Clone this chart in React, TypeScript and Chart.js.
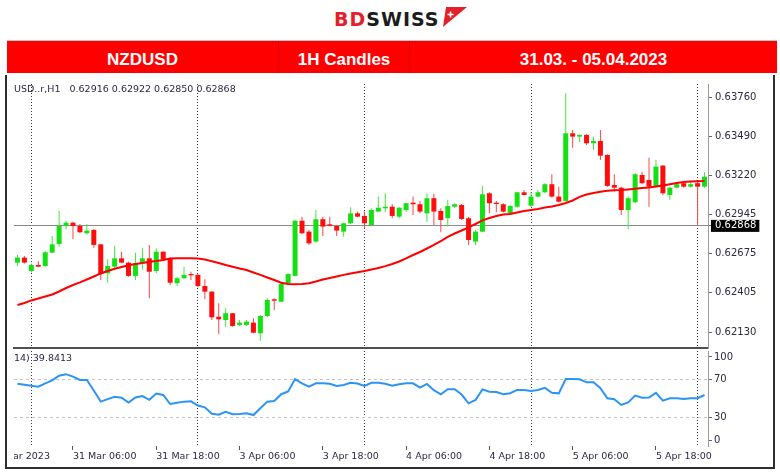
import React, { useEffect, useRef } from 'react';
import { Chart, registerables } from 'chart.js';

Chart.register(...registerables);

// ---- categories (hourly candles, server time) ----
const sessionDays = ['30 Mar', '31 Mar', '3 Apr', '4 Apr', '5 Apr', '6 Apr'];
const sessionFirstHour = [22, 0, 0, 0, 0, 0];
const sessionLastHour = [23, 23, 23, 23, 23, 1];
const categories: string[] = [];
sessionDays.forEach((d, k) => {
  for (let h = sessionFirstHour[k]; h <= sessionLastHour[k]; h++) {
    categories.push(`${d} ${String(h).padStart(2, '0')}:00`);
  }
});
const labeledHours = ['06:00', '18:00'];
const separatorHour = '00:00';
const leadLabel = '30 Mar 2023';
const leadLabelIndex = -4;

// ---- OHLC ----
const opens = [
  0.62613, 0.62648, 0.62555, 0.62597, 0.62590, 0.62682, 0.62742, 0.62867, 0.62890, 0.62867,
  0.62817, 0.62840, 0.62740, 0.62539, 0.62585, 0.62643, 0.62613, 0.62521, 0.62609, 0.62643,
  0.62555, 0.62689, 0.62643, 0.62470, 0.62505, 0.62534, 0.62528, 0.62451, 0.62412, 0.62238,
  0.62215, 0.62262, 0.62181, 0.62181, 0.62197, 0.62123, 0.62243, 0.62359, 0.62342, 0.62470,
  0.62521, 0.62904, 0.62828, 0.62759, 0.62914, 0.62879, 0.62867, 0.62828, 0.62886, 0.62955,
  0.62937, 0.62874, 0.62967, 0.62990, 0.63001, 0.62932, 0.62978, 0.63029, 0.63018, 0.62955,
  0.63060, 0.62971, 0.62921, 0.63001, 0.63013, 0.62921, 0.62759, 0.62828, 0.63094, 0.63029,
  0.63018, 0.62955, 0.63001, 0.63101, 0.63008, 0.63071, 0.63101, 0.63157, 0.63071, 0.63041,
  0.63510, 0.63487, 0.63499, 0.63441, 0.63457, 0.63360, 0.63152, 0.63133, 0.62978, 0.63032,
  0.63221, 0.63186, 0.63140, 0.63286, 0.63082, 0.63133, 0.63164, 0.63140, 0.63164, 0.63140,
];
const highs = [
  0.62666, 0.62659, 0.62607, 0.62625, 0.62696, 0.62798, 0.62971, 0.62904, 0.62897, 0.62881,
  0.62881, 0.62847, 0.62742, 0.62636, 0.62731, 0.62689, 0.62620, 0.62682, 0.62717, 0.62736,
  0.62713, 0.62692, 0.62650, 0.62516, 0.62585, 0.62550, 0.62534, 0.62498, 0.62414, 0.62331,
  0.62297, 0.62264, 0.62215, 0.62215, 0.62227, 0.62250, 0.62366, 0.62366, 0.62470, 0.62539,
  0.62909, 0.62932, 0.62840, 0.62978, 0.62932, 0.62932, 0.62874, 0.62890, 0.62997, 0.62967,
  0.62967, 0.62990, 0.63071, 0.63094, 0.63018, 0.62999, 0.63029, 0.63071, 0.63041, 0.63094,
  0.63090, 0.62990, 0.63048, 0.63025, 0.63020, 0.62932, 0.62840, 0.63145, 0.63101, 0.63041,
  0.63025, 0.63013, 0.63105, 0.63117, 0.63101, 0.63117, 0.63164, 0.63226, 0.63140, 0.63788,
  0.63533, 0.63500, 0.63503, 0.63487, 0.63533, 0.63365, 0.63226, 0.63140, 0.63071, 0.63233,
  0.63244, 0.63341, 0.63325, 0.63290, 0.63140, 0.63164, 0.63175, 0.63180, 0.63175, 0.63240,
];
const lows = [
  0.62590, 0.62607, 0.62545, 0.62583, 0.62585, 0.62678, 0.62724, 0.62844, 0.62775, 0.62817,
  0.62807, 0.62717, 0.62493, 0.62474, 0.62574, 0.62609, 0.62516, 0.62493, 0.62562, 0.62366,
  0.62539, 0.62632, 0.62458, 0.62451, 0.62498, 0.62493, 0.62442, 0.62359, 0.62215, 0.62118,
  0.62165, 0.62169, 0.62174, 0.62174, 0.62123, 0.62072, 0.62234, 0.62285, 0.62340, 0.62463,
  0.62519, 0.62812, 0.62736, 0.62752, 0.62798, 0.62863, 0.62798, 0.62793, 0.62881, 0.62928,
  0.62851, 0.62867, 0.62962, 0.62962, 0.62921, 0.62921, 0.62964, 0.62944, 0.62955, 0.62897,
  0.62874, 0.62824, 0.62863, 0.62990, 0.62909, 0.62736, 0.62736, 0.62826, 0.62955, 0.62962,
  0.62962, 0.62949, 0.62994, 0.63078, 0.63001, 0.63064, 0.63094, 0.63064, 0.63029, 0.63036,
  0.63410, 0.63448, 0.63429, 0.63395, 0.63325, 0.63140, 0.63105, 0.62944, 0.62845, 0.63025,
  0.63157, 0.63001, 0.63133, 0.63082, 0.63048, 0.63129, 0.63133, 0.63133, 0.62867, 0.63133,
];
const closes = [
  0.62648, 0.62613, 0.62597, 0.62585, 0.62685, 0.62740, 0.62867, 0.62890, 0.62867, 0.62824,
  0.62835, 0.62736, 0.62534, 0.62590, 0.62643, 0.62613, 0.62521, 0.62609, 0.62643, 0.62550,
  0.62689, 0.62636, 0.62474, 0.62505, 0.62528, 0.62525, 0.62451, 0.62412, 0.62234, 0.62220,
  0.62262, 0.62174, 0.62197, 0.62204, 0.62127, 0.62243, 0.62354, 0.62349, 0.62465, 0.62534,
  0.62904, 0.62817, 0.62747, 0.62914, 0.62863, 0.62869, 0.62835, 0.62886, 0.62955, 0.62932,
  0.62886, 0.62978, 0.62994, 0.63001, 0.62937, 0.62994, 0.63025, 0.63018, 0.62967, 0.63060,
  0.62967, 0.62909, 0.63006, 0.63018, 0.62916, 0.62770, 0.62828, 0.63087, 0.63025, 0.63020,
  0.62967, 0.63006, 0.63101, 0.63082, 0.63071, 0.63101, 0.63157, 0.63071, 0.63036, 0.63510,
  0.63487, 0.63499, 0.63441, 0.63457, 0.63355, 0.63145, 0.63133, 0.62978, 0.63060, 0.63226,
  0.63164, 0.63140, 0.63279, 0.63094, 0.63133, 0.63157, 0.63140, 0.63157, 0.63140, 0.63209,
];

// ---- moving average (red line) ----
const maValues = [
  0.62319, 0.62333, 0.62351, 0.62364, 0.62378, 0.62392, 0.62413, 0.62437, 0.62458, 0.62476,
  0.62496, 0.62517, 0.62538, 0.62555, 0.62571, 0.62583, 0.62595, 0.62604, 0.62611, 0.62619,
  0.62625, 0.62632, 0.62642, 0.62643, 0.62643, 0.62643, 0.62642, 0.62635, 0.62623, 0.62611,
  0.62597, 0.62585, 0.62573, 0.62562, 0.62545, 0.62528, 0.62510, 0.62493, 0.62474, 0.62465,
  0.62463, 0.62465, 0.62470, 0.62482, 0.62496, 0.62507, 0.62517, 0.62528, 0.62538, 0.62546,
  0.62555, 0.62566, 0.62576, 0.62589, 0.62604, 0.62621, 0.62642, 0.62666, 0.62687, 0.62711,
  0.62736, 0.62763, 0.62791, 0.62815, 0.62836, 0.62857, 0.62881, 0.62906, 0.62923, 0.62937,
  0.62947, 0.62951, 0.62961, 0.62971, 0.62978, 0.62985, 0.62996, 0.63003, 0.63013, 0.63027,
  0.63044, 0.63069, 0.63086, 0.63096, 0.63105, 0.63112, 0.63115, 0.63117, 0.63121, 0.63125,
  0.63130, 0.63134, 0.63141, 0.63148, 0.63157, 0.63166, 0.63173, 0.63176, 0.63178, 0.63180,
];

// ---- RSI(14) ----
const rsiValues = [
  65.5, 64.5, 63.5, 62.5, 66, 69, 74, 75.6, 73, 69.5,
  69.5, 58.5, 46.7, 49.3, 51.8, 50.9, 45.8, 51, 52.6, 48.6,
  55.3, 53.7, 44.2, 45.6, 46.7, 47, 42.6, 40.7, 34, 33,
  36, 33.4, 33.7, 34.4, 32.6, 39.8, 46.7, 47.4, 54.5, 57.5,
  70.5, 66, 62.5, 66, 66, 65.6, 63.2, 64.3, 66.6, 65.8,
  63.2, 66.5, 66.6, 65.5, 63.5, 65, 66, 66, 61.4, 65.3,
  58.8, 54.4, 59.7, 59.7, 54.2, 44.9, 48.4, 59.6, 57.2, 56.8,
  54.4, 55.5, 59, 59, 57.9, 59, 61.2, 56, 55.4, 70.5,
  70.5, 70.2, 67, 67, 60.8, 50.2, 49.3, 43.2, 45.8, 53,
  50.9, 51, 56, 47.8, 50.2, 50.2, 49.5, 50.2, 50.3, 53.7,
];

// ---- axes ----
const priceTicks = [0.6376, 0.6349, 0.6322, 0.62945, 0.62675, 0.62405, 0.6213];
const lastPrice = 0.62868;
const priceMin = 0.62021;
const priceMax = 0.63852;
const rsiTicks = [0, 30, 70, 100];
const rsiLevels = [30, 70];
const rsiLabelInset = 6.3;

const infoText = 'USD..r,H1\u00a0\u00a0 0.62916 0.62922 0.62850 0.62868';
const rsiText = '14) 39.8413';
const headerCells = ['NZDUSD', '1H Candles', '31.03. - 05.04.2023'];

const GREEN = '#14e014';
const GREEN_WICK = '#40e840';
const RED = '#ff0d0d';
const RED_WICK = '#ff4545';
const MA_COLOR = '#ff0000';
const RSI_COLOR = '#2c94f6';
const TEXT = '#2a2a44';
const CLEAR = 'rgba(0,0,0,0)';
const SEP_COLOR = '#3c3c3c';
const FONT = 'DejaVu Sans';

const hourOf = (i: number) => (categories[i] || '').slice(-5);
const isSeparator = (i: number) => hourOf(i) === separatorHour;
const isLabeled = (i: number) => labeledHours.includes(hourOf(i));

const leadLabelPlugin = {
  id: 'leadLabel',
  afterDraw(chart: any) {
    const { ctx, chartArea, scales } = chart;
    const xs = scales.x;
    const x = xs.getPixelForValue(leadLabelIndex);
    ctx.save();
    ctx.beginPath();
    ctx.rect(chartArea.left, chartArea.bottom, chartArea.right - chartArea.left, chart.height - chartArea.bottom);
    ctx.clip();
    ctx.font = `9.5px "${FONT}"`;
    ctx.fillStyle = TEXT;
    ctx.textAlign = 'left';
    ctx.textBaseline = 'middle';
    ctx.fillText(leadLabel, x, chartArea.bottom + 4 + 1 + 5.7);
    ctx.restore();
  },
};

export default function App() {
  const priceRef = useRef<HTMLCanvasElement>(null);
  const rsiRef = useRef<HTMLCanvasElement>(null);

  useEffect(() => {
    const up = closes.map((c, i) => c >= opens[i]);
    const priceChart = new Chart(priceRef.current as HTMLCanvasElement, {
      type: 'bar',
      data: {
        labels: categories,
        datasets: [
          {
            type: 'line',
            data: maValues,
            borderColor: MA_COLOR,
            borderWidth: 2,
            pointRadius: 0,
            tension: 0,
            order: 0,
          } as any,
          {
            type: 'bar',
            data: opens.map((o, i) => [o, closes[i]]),
            backgroundColor: up.map((u) => (u ? GREEN : RED)),
            barThickness: 5,
            grouped: false,
            inflateAmount: 0,
            borderWidth: 0,
            order: 1,
          } as any,
          {
            type: 'bar',
            data: lows.map((l, i) => [l, highs[i]]),
            backgroundColor: up.map((u) => (u ? GREEN_WICK : RED_WICK)),
            barThickness: 1,
            grouped: false,
            inflateAmount: 0,
            borderWidth: 0,
            order: 2,
          } as any,
        ],
      },
      options: {
        responsive: false,
        animation: false,
        devicePixelRatio: 1,
        layout: { padding: { left: 6, top: 9, right: 0, bottom: 1 } },
        plugins: { legend: { display: false }, tooltip: { enabled: false } },
        scales: {
          x: {
            type: 'category',
            offset: true,
            grid: {
              offset: false,
              drawTicks: false,
              lineWidth: 1,
              color: (ctx: any) => (isSeparator(ctx.index) ? SEP_COLOR : CLEAR),
            },
            border: { display: true, color: '#505050', width: 2, dash: [1, 2] },
            ticks: { display: false, autoSkip: false },
            afterFit: (s: any) => {
              s.height = 0;
              s.paddingLeft = 0;
              s.paddingRight = 0;
            },
          },
          y: {
            type: 'linear',
            position: 'right',
            min: priceMin,
            max: priceMax,
            afterBuildTicks: (s: any) => {
              s.ticks = [...priceTicks, lastPrice].map((v) => ({ value: v }));
            },
            afterFit: (s: any) => {
              s.width = 68;
              s.paddingTop = 0;
              s.paddingBottom = 0;
            },
            grid: {
              drawOnChartArea: true,
              lineWidth: 1,
              color: (ctx: any) => (ctx.tick && ctx.tick.value === lastPrice ? '#8a8a8a' : CLEAR),
              tickColor: '#666',
              tickLength: 4,
            },
            border: { display: true, color: '#9a9a9a', width: 1 },
            ticks: {
              autoSkip: false,
              padding: 3,
              font: { family: FONT, size: 10 },
              color: (ctx: any) => (ctx.tick && ctx.tick.value === lastPrice ? '#ffffff' : TEXT),
              callback: (v: any) => Number(v).toFixed(5),
              showLabelBackdrop: (ctx: any) => !!(ctx.tick && ctx.tick.value === lastPrice),
              backdropColor: '#000000',
              backdropPadding: { top: 0, bottom: 0, left: 4, right: 3 },
            } as any,
          },
        },
      } as any,
    });

    const rsiChart = new Chart(rsiRef.current as HTMLCanvasElement, {
      type: 'line',
      data: {
        labels: categories,
        datasets: [
          {
            data: rsiValues,
            borderColor: RSI_COLOR,
            borderWidth: 2,
            pointRadius: 0,
            tension: 0,
          },
        ],
      },
      options: {
        responsive: false,
        animation: false,
        devicePixelRatio: 1,
        layout: { padding: { left: 6, top: 2, right: 0, bottom: 0 } },
        plugins: { legend: { display: false }, tooltip: { enabled: false } },
        scales: {
          x: {
            type: 'category',
            offset: true,
            grid: {
              offset: false,
              lineWidth: 1,
              color: (ctx: any) => (isSeparator(ctx.index) ? SEP_COLOR : CLEAR),
              tickColor: (ctx: any) => (isLabeled(ctx.index) ? '#555' : CLEAR),
              tickLength: 4,
            },
            border: { display: false, dash: [1, 2] },
            ticks: {
              autoSkip: false,
              maxRotation: 0,
              minRotation: 0,
              align: 'start',
              padding: 1,
              font: { family: FONT, size: 9.5 },
              color: TEXT,
              callback: (_v: any, i: number) => (isLabeled(i) ? categories[i] : ''),
            },
            afterFit: (s: any) => {
              s.height = 22;
              s.paddingLeft = 0;
              s.paddingRight = 0;
            },
          },
          y: {
            type: 'linear',
            position: 'right',
            min: 0,
            max: 100,
            afterBuildTicks: (s: any) => {
              s.ticks = rsiTicks.map((v) => ({
                value: Math.min(Math.max(v, rsiLabelInset), 100 - rsiLabelInset),
              }));
            },
            afterFit: (s: any) => {
              s.width = 68;
              s.paddingTop = 0;
              s.paddingBottom = 0;
            },
            grid: {
              drawOnChartArea: true,
              lineWidth: 1,
              color: (ctx: any) => (rsiLevels.includes(rsiTicks[ctx.index]) ? '#c4c4c4' : CLEAR),
              tickColor: '#666',
              tickLength: 4,
            },
            border: { display: true, color: '#9a9a9a', width: 1, dash: [3, 3] },
            ticks: {
              autoSkip: false,
              padding: 2,
              font: { family: FONT, size: 10 },
              color: TEXT,
              callback: (_v: any, i: number) => String(rsiTicks[i]),
            },
          },
        },
      } as any,
      plugins: [leadLabelPlugin],
    });

    return () => {
      priceChart.destroy();
      rsiChart.destroy();
    };
  }, []);

  const cellWidths = [271, 131, 368];

  return (
    <div
      style={{
        position: 'absolute',
        left: 0,
        top: 0,
        width: 780,
        height: 472,
        background: '#ffffff',
        overflow: 'hidden',
      }}
    >
      {/* logo */}
      <div
        style={{
          position: 'absolute',
          left: 334,
          top: 10,
          fontFamily: '"DejaVu Sans", sans-serif',
          fontWeight: 700,
          fontSize: 19,
          lineHeight: '19px',
          letterSpacing: 1,
          whiteSpace: 'nowrap',
        }}
      >
        <span style={{ color: '#e3202a' }}>BD</span>
        <span style={{ color: '#1c1c1c' }}>SWISS</span>
      </div>
      <svg style={{ position: 'absolute', left: 440, top: 5 }} width={28} height={24}>
        <polygon points="6,2 27,2 3,22" fill="#e3202a" />
        <path d="M10.5,6.5 L10.5,12.5 M7.5,9.5 L13.5,9.5" stroke="#ffffff" strokeWidth={1.6} />
      </svg>

      {/* header */}
      <div style={{ position: 'absolute', left: 7, top: 40, width: 770, height: 1, background: '#c4c4c4' }} />
      <div
        style={{
          position: 'absolute',
          left: 7,
          top: 41,
          width: 770,
          height: 32,
          background: '#ff0000',
          display: 'flex',
        }}
      >
        {headerCells.map((t, k) => (
          <div
            key={t}
            style={{
              width: cellWidths[k],
              height: 32,
              boxSizing: 'border-box',
              paddingTop: 4,
              borderLeft: k > 0 ? '1px solid #d40000' : 'none',
              display: 'flex',
              alignItems: 'center',
              justifyContent: 'center',
              color: '#ffffff',
              fontFamily: '"Liberation Sans", Arial, sans-serif',
              fontWeight: 700,
              fontSize: 17,
              lineHeight: '17px',
              whiteSpace: 'nowrap',
            }}
          >
            {t}
          </div>
        ))}
      </div>

      {/* frame */}
      <div style={{ position: 'absolute', left: 5, top: 75, width: 2, height: 394, background: '#2e2e2e' }} />
      <div style={{ position: 'absolute', left: 773, top: 75, width: 2, height: 394, background: '#2e2e2e' }} />
      <div style={{ position: 'absolute', left: 5, top: 467, width: 770, height: 2, background: '#2e2e2e' }} />

      {/* charts */}
      <canvas
        ref={priceRef}
        width={768}
        height={274}
        style={{ position: 'absolute', left: 8, top: 75, width: 768, height: 274 }}
      />
      <canvas
        ref={rsiRef}
        width={768}
        height={119}
        style={{ position: 'absolute', left: 8, top: 349, width: 768, height: 119 }}
      />

      {/* chart captions */}
      <div
        style={{
          position: 'absolute',
          left: 14,
          top: 83,
          fontFamily: FONT,
          fontSize: 9.5,
          lineHeight: '11px',
          color: TEXT,
          whiteSpace: 'nowrap',
        }}
      >
        {infoText}
      </div>
      <div
        style={{
          position: 'absolute',
          left: 14,
          top: 352,
          fontFamily: FONT,
          fontSize: 9.5,
          lineHeight: '11px',
          color: TEXT,
          whiteSpace: 'nowrap',
        }}
      >
        {rsiText}
      </div>
    </div>
  );
}
